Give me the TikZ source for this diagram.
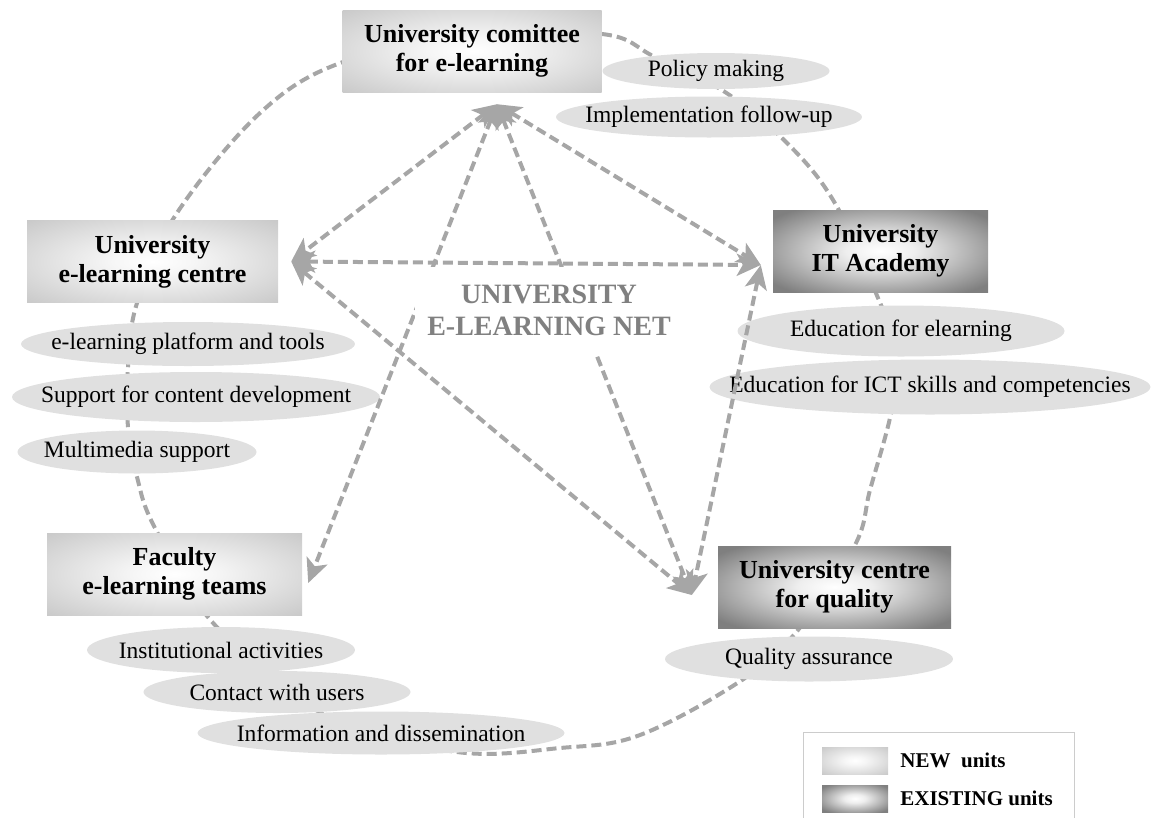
\documentclass[tikz,border=0pt]{standalone}
\usepackage{fontspec}
\setmainfont{Liberation Serif}
\usetikzlibrary{arrows.meta,positioning,shapes.geometric}

\definecolor{linkgray}{HTML}{A6A6A6}
\definecolor{taskgray}{HTML}{E0E0E0}
\definecolor{netgray}{HTML}{808080}
\definecolor{legendgray}{HTML}{CCCCCC}
\definecolor{newin}{HTML}{F6F6F6}
\definecolor{newout}{HTML}{BBBBBB}
\definecolor{oldin}{HTML}{EEEEEE}
\definecolor{oldout}{HTML}{7F7F7F}

\pgfdeclareradialshading{newglow}{\pgfpoint{0bp}{0bp}}{color(0bp)=(white); color(8bp)=(newin); color(44bp)=(newout); color(50bp)=(newout)}
\pgfdeclareradialshading{oldglow}{\pgfpoint{0bp}{0bp}}{color(0bp)=(white); color(8bp)=(oldin); color(32bp)=(oldout); color(50bp)=(oldout)}

\begin{document}
\begin{tikzpicture}[x=1pt, y=-1pt,
    unit/.style ={rectangle, inner sep=0pt, minimum height=82pt, align=center,
                  font=\fontsize{26}{29}\selectfont\bfseries},
    newunit/.style ={unit, shade, shading=newglow},
    oldunit/.style ={unit, shade, shading=oldglow},
    task/.style ={ellipse, fill=taskgray, inner xsep=-300pt, inner ysep=-50pt,
                  font=\fontsize{23.5}{26}\selectfont},
    ring/.style ={draw=linkgray, line width=4pt, dash pattern=on 10pt off 5pt},
    link/.style ={ring, {Stealth[length=24pt,width=22pt,inset=6pt]}-{Stealth[length=24pt,width=22pt,inset=6pt]}}]
   \useasboundingbox (0,0) rectangle (1151,817);

   % the net that runs round all units
   \draw[ring] plot[smooth cycle, tension=0.6] coordinates {(470,36) (602,34) (655,57) (725,92)
      (790,146) (836,205) (878,298) (900,358) (890,418) (870,490) (855,545) (798,630) (742,680)
      (640,735) (560,748) (457,752) (330,718) (214,624) (155,528) (137,477) (128,427) (128,367)
      (137,303) (175,216) (260,113) (343,62)};

   \node[newunit, minimum width=259pt] (cmt) at (472,51)    {University comittee\\for e-learning};
   \node[newunit, minimum width=251pt] (elc) at (152.5,261.5) {University\\e-learning centre};
   \node[oldunit, minimum width=215pt] (ita) at (880.5,251)  {University\\IT Academy};
   \node[newunit, minimum width=255pt] (fac) at (174.5,574)  {Faculty\\e-learning teams};
   \node[oldunit, minimum width=233pt] (cfq) at (834.5,587)  {University centre\\for quality};

   \node[task, minimum width=227pt, minimum height=36pt] (pol)  at (716,71)  {Policy making};
   \node[task, minimum width=306pt, minimum height=41pt] (imp)  at (709,117) {Implementation follow-up};
   \node[task, minimum width=334pt, minimum height=44pt] (plat) at (188,344) {e-learning platform and tools};
   \node[task, minimum width=368pt, minimum height=50pt] (supp) at (196,397) {Support for content development};
   \node[task, minimum width=239pt, minimum height=43pt] (mult) at (137,452) {Multimedia support};
   \node[task, minimum width=327pt, minimum height=51pt] (edu)  at (901,331) {Education for elearning};
   \node[task, minimum width=441pt, minimum height=55pt] (ict)  at (930,387) {Education for ICT skills and competencies};
   \node[task, minimum width=288pt, minimum height=45pt] (qa)   at (809,659) {Quality assurance};
   \node[task, minimum width=268pt, minimum height=46pt] (inst) at (221,650) {Institutional activities};
   \node[task, minimum width=267pt, minimum height=42pt] (cont) at (277,692) {Contact with users};
   \node[task, minimum width=367pt, minimum height=43pt] (info) at (381,733) {Information and dissemination};

   % where the arrows of each unit meet
   \coordinate (cmtHub) at ([xshift=25pt,yshift=-12pt]cmt.south);
   \coordinate (elcHub) at ([xshift=13pt]elc.east);
   \coordinate (itaHub) at ([xshift=-12pt,yshift=-14pt]ita.west);
   \coordinate (facHub) at ([xshift=6pt,yshift=-9pt]fac.east);
   \coordinate (cfqHub) at ([xshift=-26pt,yshift=-8pt]cfq.west);

   \draw[link] (cmtHub) to (elcHub);
   \draw[link] (elcHub) to (itaHub);
   \draw[link] (cmtHub) to (itaHub);
   \draw[link] (cmtHub) to (facHub);
   \draw[link] (elcHub) to (cfqHub);
   \draw[link] (itaHub) to (cfqHub);
   \draw[link] (cmtHub) to (cfqHub);

   \node[fill=white, inner xsep=12pt, inner ysep=18pt, text=netgray, align=center,
         font=\fontsize{28}{32}\selectfont\bfseries] (net) at (549,310) {UNIVERSITY\\E-LEARNING NET};

   % legend
   \node[draw=legendgray, line width=1pt, minimum width=271pt, minimum height=100pt,
         anchor=north west] (legend) at (803,732) {};
   \node[newunit, minimum width=66pt, minimum height=27pt] (newkey) at (855,760.5) {};
   \node[oldunit, minimum width=66pt, minimum height=27pt] (oldkey) at (855,798.5) {};
   \node[right=12pt of newkey, inner sep=0pt, font=\fontsize{21}{24}\selectfont\bfseries] (newtxt) {NEW\ \ units};
   \node[right=12pt of oldkey, inner sep=0pt, font=\fontsize{21}{24}\selectfont\bfseries] (oldtxt) {EXISTING units};
\end{tikzpicture}
\end{document}
